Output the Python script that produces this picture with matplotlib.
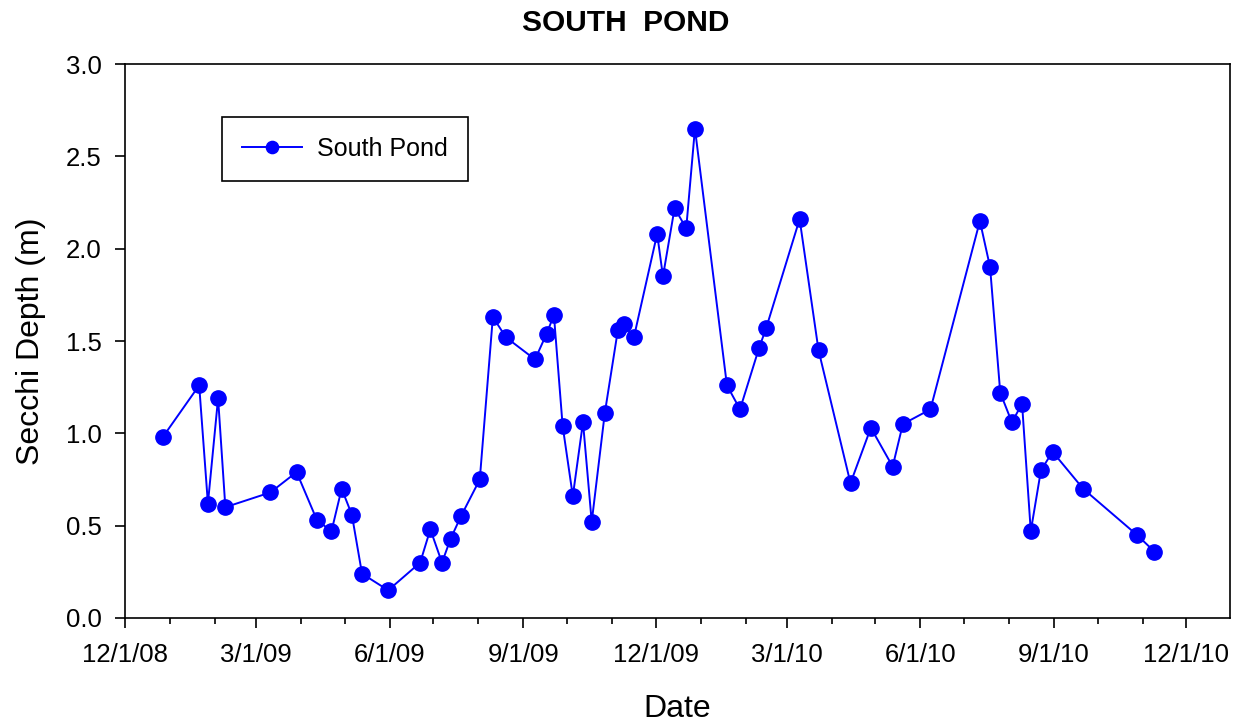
import numpy as np
import pandas as pd
import matplotlib
matplotlib.use("Agg")
from matplotlib import pyplot as plt
import matplotlib.dates as mdates

plt.rcParams["font.family"] = ["Liberation Sans", "DejaVu Sans"]

dates = [
    "2008-12-27", "2009-01-21", "2009-01-27", "2009-02-03", "2009-02-08",
    "2009-03-11", "2009-03-29", "2009-04-12", "2009-04-22", "2009-04-29",
    "2009-05-06", "2009-05-13", "2009-05-31", "2009-06-22", "2009-06-29",
    "2009-07-07", "2009-07-13", "2009-07-20", "2009-08-02", "2009-08-11",
    "2009-08-20", "2009-09-09", "2009-09-17", "2009-09-22", "2009-09-28",
    "2009-10-05", "2009-10-12", "2009-10-18", "2009-10-27", "2009-11-05",
    "2009-11-09", "2009-11-16", "2009-12-02", "2009-12-06", "2009-12-14",
    "2009-12-22", "2009-12-28", "2010-01-19", "2010-01-28", "2010-02-10",
    "2010-02-15", "2010-03-10", "2010-03-23", "2010-04-14", "2010-04-28",
    "2010-05-13", "2010-05-20", "2010-06-08", "2010-07-12", "2010-07-19",
    "2010-07-26", "2010-08-03", "2010-08-10", "2010-08-16", "2010-08-23",
    "2010-08-31", "2010-09-21", "2010-10-28", "2010-11-09",
]
depth = [
    0.98, 1.26, 0.62, 1.19, 0.60,
    0.68, 0.79, 0.53, 0.47, 0.70,
    0.56, 0.24, 0.15, 0.30, 0.48,
    0.30, 0.43, 0.55, 0.75, 1.63,
    1.52, 1.40, 1.54, 1.64, 1.04,
    0.66, 1.06, 0.52, 1.11, 1.56,
    1.59, 1.52, 2.08, 1.85, 2.22,
    2.11, 2.65, 1.26, 1.13, 1.46,
    1.57, 2.16, 1.45, 0.73, 1.03,
    0.82, 1.05, 1.13, 2.15, 1.90,
    1.22, 1.06, 1.16, 0.47, 0.80,
    0.90, 0.70, 0.45, 0.36,
]
x_ticks = ["2008-12-01", "2009-03-01", "2009-06-01", "2009-09-01", "2009-12-01",
           "2010-03-01", "2010-06-01", "2010-09-01", "2010-12-01"]

t = pd.to_datetime(dates)

fig = plt.figure(figsize=(12.38, 7.25), dpi=100)
ax = fig.add_axes([0.101, 0.1476, 0.8925, 0.7641])

ax.plot(t, depth, color="#0000ff", linewidth=1.4, marker="o", markersize=11,
        label="South Pond")

ax.set_xlim(pd.Timestamp("2008-12-01"), pd.Timestamp("2010-12-31"))
ax.set_ylim(0, 3.0)
ax.set_yticks(np.arange(0, 3.01, 0.5))
ax.yaxis.set_major_formatter(plt.FormatStrFormatter("%.1f"))

xt = pd.to_datetime(x_ticks)
ax.set_xticks(xt)
ax.set_xticklabels([f"{d.month}/{d.day}/{d.strftime('%y')}" for d in xt])
ax.xaxis.set_minor_locator(mdates.MonthLocator())

ax.tick_params(axis="both", which="major", direction="out", length=7, width=1.2,
               labelsize=18.5)
ax.tick_params(axis="x", which="minor", direction="out", length=4, width=1.2)
ax.tick_params(axis="x", which="major", pad=11)
ax.tick_params(axis="y", which="major", pad=10)
for s in ax.spines.values():
    s.set_linewidth(1.2)

ax.set_xlabel("Date", fontsize=23, va="center")
ax.xaxis.set_label_coords(0.5, -0.165)
ax.set_ylabel("Secchi Depth (m)", fontsize=23, va="center")
ax.yaxis.set_label_coords(-0.0855, 0.5)
fig.text(0.505, 1 - 23 / 725, "SOUTH  POND", fontsize=21.5, fontweight="bold",
         ha="center", va="center")

leg = ax.legend(loc="upper left", bbox_to_anchor=(0.088, 0.904), borderaxespad=0,
                fancybox=False, edgecolor="black", framealpha=1, fontsize=18,
                handlelength=2.4, handletextpad=0.6, borderpad=0.8,
                markerscale=0.8)
leg.get_frame().set_linewidth(1.2)

fig.savefig("out.png", dpi=100)
